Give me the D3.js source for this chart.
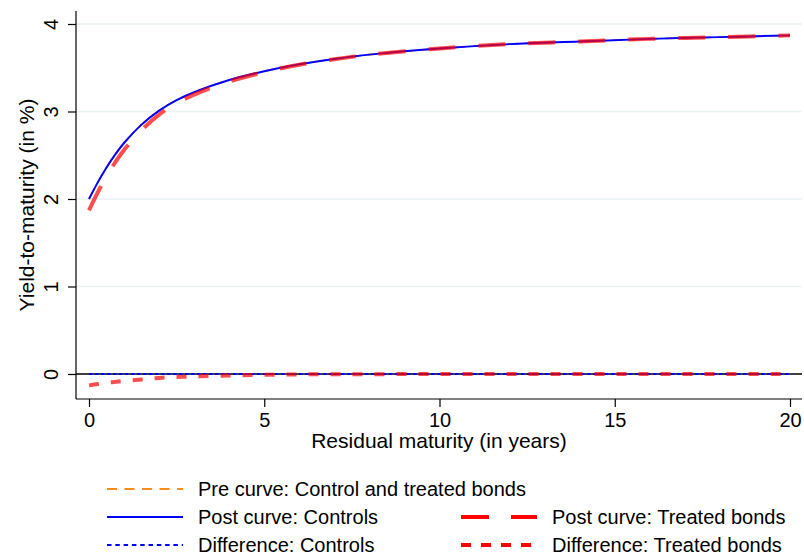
<!DOCTYPE html>
<meta charset="utf-8">
<style>
body { margin: 0; background: #fff; }
svg { font-family: "Liberation Sans", Arial, sans-serif; }
</style>
<body>
<script src="https://cdn.jsdelivr.net/npm/d3@7"></script>
<script>

// maturities in years
var maturity   = [0, 0.25, 0.5, 0.75, 1, 1.5, 2, 2.5, 3, 4, 5, 6, 7, 8, 10, 12, 14, 16, 18, 20];
var preCurve   = [2.00, 2.19, 2.36, 2.51, 2.64, 2.85, 3.01, 3.13, 3.22, 3.36, 3.46, 3.54, 3.60, 3.65, 3.72, 3.77, 3.80, 3.83, 3.85, 3.87];
var postCtrl   = [2.00, 2.19, 2.36, 2.51, 2.64, 2.85, 3.01, 3.13, 3.22, 3.36, 3.46, 3.54, 3.60, 3.65, 3.72, 3.77, 3.80, 3.83, 3.85, 3.87];
var postTreat  = [1.87, 2.075, 2.26, 2.42, 2.56, 2.787, 2.965, 3.095, 3.192, 3.342, 3.45, 3.535, 3.597, 3.648, 3.72, 3.77, 3.80, 3.83, 3.85, 3.87];
var diffCtrl   = [0, 0, 0, 0, 0, 0, 0, 0, 0, 0, 0, 0, 0, 0, 0, 0, 0, 0, 0, 0];
var diffTreat  = [-0.13, -0.115, -0.10, -0.09, -0.08, -0.063, -0.045, -0.035, -0.028, -0.018, -0.01, -0.005, -0.003, -0.002, 0, 0, 0, 0, 0, 0];

var xTicks = [0, 5, 10, 15, 20];
var yTicks = [0, 1, 2, 3, 4];

var width = 804, height = 555;
var svg = d3.select("body").append("svg")
  .attr("width", width)
  .attr("height", height);

var plotL = 76, plotR = 802, plotT = 11, plotB = 399;

var x = d3.scaleLinear().domain([0, 20]).range([89, 790]);
var y = d3.scaleLinear().domain([0, 4]).range([374, 24]);

// grid lines
svg.selectAll("line.grid")
  .data(yTicks.filter(function (d) { return d > 0; }))
  .enter().append("line")
  .attr("x1", plotL).attr("x2", plotR)
  .attr("y1", function (d) { return y(d); })
  .attr("y2", function (d) { return y(d); })
  .attr("stroke", "#eaf2f3")
  .attr("stroke-width", 1.5);

// y axis
var yAxis = svg.append("g")
  .attr("transform", "translate(" + plotL + ",0)")
  .call(d3.axisLeft(y).tickValues(yTicks).tickFormat(d3.format("d")).tickSize(8));
yAxis.select(".domain").attr("d", "M0," + plotT + "V" + plotB).attr("stroke", "#000").attr("stroke-width", 1.2);
yAxis.selectAll(".tick line").attr("stroke", "#000").attr("stroke-width", 1.2);
yAxis.selectAll(".tick text")
  .attr("font-size", 20)
  .attr("fill", "#000")
  .attr("x", null).attr("dy", null)
  .attr("text-anchor", "middle")
  .attr("transform", "translate(-18,0) rotate(-90)");

// x axis
var xAxis = svg.append("g")
  .attr("transform", "translate(0," + plotB + ")")
  .call(d3.axisBottom(x).tickValues(xTicks).tickSize(8));
xAxis.select(".domain").attr("d", "M" + plotL + ",0H" + plotR).attr("stroke", "#000").attr("stroke-width", 1.2);
xAxis.selectAll(".tick line").attr("stroke", "#000").attr("stroke-width", 1.2);
xAxis.selectAll(".tick text")
  .attr("font-size", 20).attr("fill", "#000")
  .attr("y", 28).attr("dy", null);

// titles
svg.append("text")
  .attr("x", (plotL + plotR) / 2).attr("y", 448)
  .attr("text-anchor", "middle")
  .attr("font-size", 21)
  .text("Residual maturity (in years)");

svg.append("text")
  .attr("transform", "translate(34," + ((plotT + plotB) / 2) + ") rotate(-90)")
  .attr("text-anchor", "middle")
  .attr("font-size", 21)
  .text("Yield-to-maturity (in %)");

// zero line
svg.append("line")
  .attr("x1", plotL).attr("x2", plotR)
  .attr("y1", y(0)).attr("y2", y(0))
  .attr("stroke", "#000").attr("stroke-width", 1.5);

var series = [
  { label: "Pre curve: Control and treated bonds", values: preCurve, color: "#ff8c1a", width: 1.8, dash: "10,7.5", opacity: 1 },
  { label: "Post curve: Controls", values: postCtrl, color: "#0000ff", width: 2, dash: null, opacity: 1 },
  { label: "Difference: Controls", values: diffCtrl, color: "#0000ff", width: 2, dash: "3.5,2.5", opacity: 1 },
  { label: "Post curve: Treated bonds", values: postTreat, color: "#ff0000", width: 4, dash: "27,23", opacity: 0.7 },
  { label: "Difference: Treated bonds", values: diffTreat, color: "#ff0000", width: 4, dash: "10,12", opacity: 0.7 }
];

var line = d3.line()
  .x(function (d) { return x(d[0]); })
  .y(function (d) { return y(d[1]); })
  .curve(d3.curveCatmullRom.alpha(0.5));

series.forEach(function (s) {
  svg.append("path")
    .datum(maturity.map(function (m, i) { return [m, s.values[i]]; }))
    .attr("d", line)
    .attr("fill", "none")
    .attr("stroke", s.color)
    .attr("stroke-width", s.width)
    .attr("stroke-opacity", s.opacity)
    .attr("stroke-dasharray", s.dash);
});

// legend
var legendPos = [
  { s: 0, x: 107, y: 489 },
  { s: 1, x: 107, y: 517 },
  { s: 2, x: 107, y: 545 },
  { s: 3, x: 461, y: 517 },
  { s: 4, x: 461, y: 545 }
];
var legendDash = ["10,7.5", null, "4.5,3.8", "28,22", "10,10"];

var leg = svg.selectAll("g.legend")
  .data(legendPos)
  .enter().append("g")
  .attr("transform", function (d) { return "translate(" + d.x + "," + d.y + ")"; });

leg.append("line")
  .attr("x1", 0).attr("x2", 76)
  .attr("y1", 0).attr("y2", 0)
  .attr("stroke", function (d) { return series[d.s].color; })
  .attr("stroke-width", function (d) { return series[d.s].width; })
  .attr("stroke-dasharray", function (d) { return legendDash[d.s]; });

leg.append("text")
  .attr("x", 91).attr("dy", "0.35em")
  .attr("font-size", 20)
  .text(function (d) { return series[d.s].label; });

</script>
